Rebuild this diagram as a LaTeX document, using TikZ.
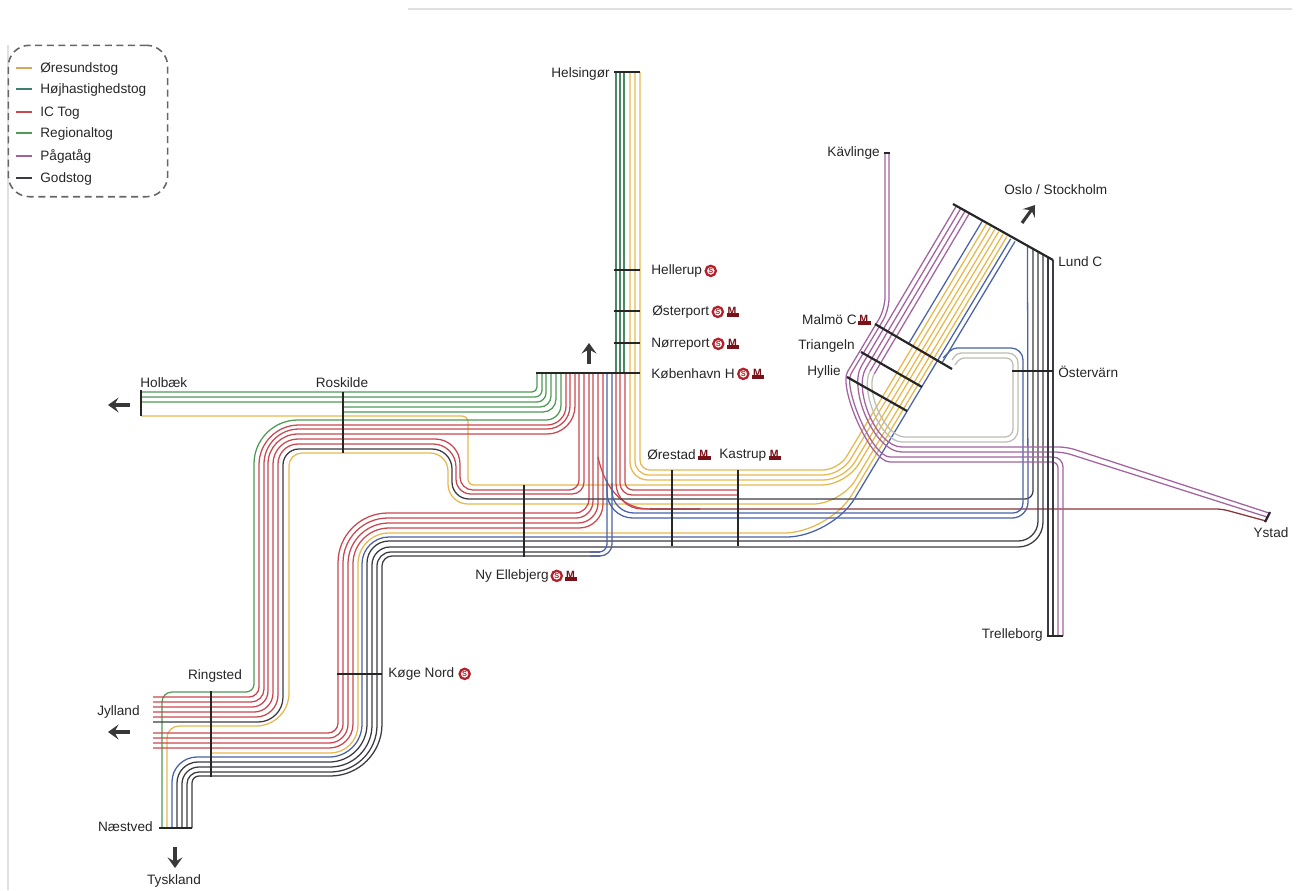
\documentclass[tikz,border=0pt]{standalone}
\usepackage{fontspec}
\setmainfont{Liberation Sans}
\usepackage{xcolor}
\usetikzlibrary{arrows.meta, positioning}
\definecolor{oerecol}{HTML}{E6B84E}
\definecolor{legoere}{HTML}{DDA45C}
\definecolor{hoejcol}{HTML}{4A8A62}
\definecolor{legnhoej}{HTML}{3F7F72}
\definecolor{iccol}{HTML}{C9474F}
\definecolor{regcol}{HTML}{4F9A55}
\definecolor{pagcol}{HTML}{A2629F}
\definecolor{godscol}{HTML}{3A3A42}
\definecolor{blaucol}{HTML}{4A62A6}
\definecolor{graacol}{HTML}{BDBDB6}
\definecolor{ikoncol}{HTML}{B3202A}
\definecolor{ikonmork}{HTML}{7A1018}

\begin{document}
\begin{tikzpicture}[
    x=0.02cm, y=-0.02cm,
    track/.style={line width=0.72pt},
    oere/.style={track, oerecol},
    hoej/.style={track, hoejcol},
    ictog/.style={track, iccol},
    regio/.style={track, regcol},
    paga/.style={track, pagcol},
    gods/.style={track, godscol},
    blau/.style={track, blaucol},
    graa/.style={track, graacol},
    rc/.style={rounded corners=#1*0.567pt},
    stopbar/.style={line width=1.25pt, black!85},
    stn/.style={font=\fontsize{7.75}{9}\selectfont, text=black!85, inner sep=0pt, yshift=-0.5pt},
    sicon/.style={circle, draw=ikoncol, line width=1.3pt, inner sep=0pt, minimum size=5.8pt,
        font=\fontsize{4.2}{5}\selectfont\bfseries, text=ikoncol},
    micon/.style={inner sep=0pt, font=\fontsize{6}{6}\selectfont\bfseries, text=ikonmork},
    arr/.style={-{Stealth[length=6pt, width=8.5pt, inset=2.4pt]}, line width=1.8pt, black!78},
]
\useasboundingbox (0,0) rectangle (1298,890);
\newcommand{\mbar}{\rlap{\raisebox{-1.3pt}{\rule{7pt}{2pt}}}\hspace{0.6pt}M}

%% ---- PAGE EDGES ----
\draw[black!12, line width=0.6pt] (408,9) -- (1292,9);
\draw[black!12, line width=0.6pt] (8,45) -- (8,890);

%% ---- HELSINGOR LINE ----
\foreach \xk in {616,620,624}
    \draw[hoej] (\xk,72) -- (\xk,373);

%% ---- ORESUND YELLOW ----
\foreach \xk/\yh/\xc/\xt/\yt/\ra/\rb in {640/470/838.5/986.3/224.1/10/16,
        635/475/841/990.6/226.7/14/18, 630/480/844/994.8/229.3/18/21}
    \draw[oere] (\xk,72) [rc=\ra] -- (\xk,\yh) [rc=\rb] -- (\xc,\yh) -- (\xt,\yt);
\draw[oere] (141,416) [rc=6] -- (468,416) -- (468,485) [rc=24] -- (846,485) -- (998.7,231.6);
\draw[oere] (167,828) [rc=12] -- (167,726) [rc=33] -- (289,726) [rc=13] -- (289,453) [rc=18]
    -- (448,453) [rc=20] -- (448,504) [rc=28] -- (841,504) -- (1003,234.2);
\draw[oere] (211,753) [rc=28] -- (358,753) [rc=31] -- (358,533) [rc=45] -- (829,533) -- (1006.9,236.5);

%% ---- GREEN TO KOBENHAVN ----
\foreach \xs/\yh/\xk/\ra in {141/392/537/5, 141/397/542/7, 141/402/546/9, 342/407/551/11, 342/412/556/13}
    \draw[regio] (\xs,\yh) [rc=\ra] -- (\xk,\yh) -- (\xk,373);
\draw[regio] (561,373) [rc=15] -- (561,420) [rc=44] -- (254,420) [rc=8] -- (254,692) [rc=10]
    -- (162,692) -- (162,828);

%% ---- IC UPPER ----
\foreach \xk/\yh/\xl/\yl/\ra/\rb/\rc in {566/425/259/697/19/40/10, 570/429/264/702/23/35/13, 575/434/268/707/28/30/16}
    \draw[ictog] (\xk,373) [rc=\ra] -- (\xk,\yh) [rc=\rb] -- (\xl,\yh) [rc=\rc] -- (\xl,\yl) -- (153,\yl);
\draw[ictog] (153,712) [rc=19] -- (273,712) [rc=25] -- (273,439) [rc=25] -- (460,439) [rc=13]
    -- (460,490) [rc=10] -- (579,490) -- (579,373);
\draw[ictog] (153,717) [rc=22] -- (278,717) [rc=20] -- (278,444) [rc=23] -- (456,444) [rc=15]
    -- (456,494) [rc=12] -- (584,494) -- (584,373);

%% ---- IC LOWER ----
\foreach \yl/\xl/\yh/\xk/\ra/\rb/\rc in {733/338/513/589/10/50/14, 738/343/518/593/14/45/17,
        743/348/523/598/19/41/20, 748/353/528/603/24/36/24}
    \draw[ictog] (153,\yl) [rc=\ra] -- (\xl,\yl) [rc=\rb] -- (\xl,\yh) [rc=\rc] -- (\xk,\yh) -- (\xk,373);

%% ---- IC TO ORESTAD AND YSTAD ----
\draw[ictog] (625,373) [rc=8] -- (625,490) -- (738,490);
\draw[ictog] (620,373) [rc=12] -- (620,495) -- (738,495);
\draw[ictog] (616,373) [rc=26] -- (616,509) -- (700,509);
\draw[ictog] (598,457) .. controls (604,485) and (620,509) .. (650,509);
\draw[ictog, black!30!iccol] (650,509) [rc=6] -- (1222,509) -- (1266,521);

%% ---- GODS AND BLUE THROUGH ----
\draw[gods] (153,722) [rc=25] -- (283,722) [rc=16] -- (283,449) [rc=20] -- (452,449) [rc=17]
    -- (452,499) [rc=8] -- (1033,499) -- (1033,248.8);
\draw[blau] (172,828) [rc=25] -- (172,757) [rc=33] -- (362,757) [rc=27] -- (362,537) [rc=45]
    -- (831.5,537) -- (1010.7,238.8);
\draw[gods] (177,828) [rc=21] -- (177,762) [rc=38] -- (367,762) [rc=22] -- (367,541) [rc=20]
    -- (1038,541) -- (1038,251.6);
\draw[gods] (182,828) [rc=17] -- (182,767) [rc=42] -- (372,767) [rc=18] -- (372,547) [rc=25]
    -- (1043,547) -- (1043,254.4);
\draw[gods] (187,828) [rc=12] -- (187,772) [rc=47] -- (377,772) [rc=14] -- (377,552) -- (600,552);
\draw[gods] (192,828) [rc=7] -- (192,776) [rc=52] -- (382,776) [rc=10] -- (382,556) -- (600,556);
\draw[blau] (590,552) [rc=8] -- (607,552) -- (607,373);
\draw[blau] (590,556) [rc=12] -- (612,556) -- (612,373);

%% ---- BLUE BRANCHES ----
\draw[blau] (607,480) [rc=26] -- (607,518) [rc=16] -- (1028,518) -- (1027.5,245.7);
\draw[blau] (612,483) [rc=22] -- (612,513) [rc=10] -- (1023,513) [rc=12] -- (1023,348) [rc=4]
    -- (953,348) -- (943,358);
\draw[blau] (982,221.5) -- (908.4,344);
\draw[blau] (1015,241.4) -- (941.4,363.9);

%% ---- PAGATOG ----
\draw[paga] (885,153) [rc=12] -- (885,309) -- (853.7,361.4)
    .. controls (838.3,387.1) and (870,462) .. (902,462) [rc=6] -- (1058,462) -- (1058,636);
\draw[paga] (889,153) [rc=12] -- (889,310.4) -- (857.2,363.4)
    .. controls (842.8,387.4) and (872,457) .. (902,457) [rc=10] -- (1063,457) -- (1063,636);
\draw[paga] (956.3,206.1) -- (861.4,366)
    .. controls (848,388.3) and (874,452) .. (902,452) [rc=8] -- (1063,452) -- (1267,517);
\draw[paga] (960.6,208.7) -- (865.7,368.6)
    .. controls (853.3,389.2) and (876,447) .. (902,447) [rc=8] -- (1067,447) -- (1269,513);
\draw[paga] (964.9,211.2) -- (870,371.2);
\draw[paga] (969.1,213.8) -- (874.3,373.7);

%% ---- GRAY LOOP ----
\draw[graa] (870,371.2) .. controls (859.7,388.3) and (880,442) .. (902,442)
    [rc=12] -- (1018,442) [rc=10] -- (1018,353) [rc=4] -- (957,353) -- (952,360);
\draw[graa] (874.3,373.7) .. controls (865,389.1) and (884,437) .. (905,437)
    [rc=8] -- (1013,437) [rc=7] -- (1013,358) [rc=4] -- (960,358) -- (955,365);

%% ---- TRELLEBORG ----
\foreach \xk/\yt in {1048/257.2, 1053/260}
    \draw[gods] (\xk,\yt) -- (\xk,636);

%% ---- STOP BARS ----
\draw[stopbar] (614,72) -- (640,72);
\draw[stopbar] (614,270) -- (640,270);
\draw[stopbar] (614,311) -- (640,311);
\draw[stopbar] (614,343) -- (640,343);
\draw[stopbar] (536,373) -- (640,373);
\draw[stopbar] (672,470) -- (672,546);
\draw[stopbar] (738,470) -- (738,546);
\draw[stopbar] (524,485) -- (524,557);
\draw[stopbar] (343,392) -- (343,453);
\draw[stopbar] (141,390) -- (141,416);
\draw[stopbar] (211,691) -- (211,777);
\draw[stopbar] (337,674) -- (382,674);
\draw[stopbar] (159,828) -- (192,828);
\draw[stopbar] (953,204) -- (1053,260);
\draw[stopbar] (875,324) -- (952,369);
\draw[stopbar] (861,352) -- (922,387);
\draw[stopbar] (847,377) -- (907,411);
\draw[stopbar] (1012,371) -- (1053,371);
\draw[stopbar] (884,153) -- (890,153);
\draw[stopbar] (1047,636) -- (1063,636);
\draw[stopbar] (1265,522) -- (1270,512);

%% ---- STATION LABELS ----
\node[stn, anchor=east] (helsingor) at (610,73) {Helsingør};
\node[stn, anchor=west] (hellerup) at (651,270) {Hellerup};
\node[sicon, right=1.2pt of hellerup] (hellerupS) {S};
\node[stn, anchor=west] (osterport) at (652,311) {Østerport};
\node[sicon, right=1.2pt of osterport] (osterportS) {S};
\node[micon, right=1.2pt of osterportS] (osterportM) {\mbar};
\node[stn, anchor=west] (norreport) at (651,343) {Nørreport};
\node[sicon, right=1.2pt of norreport] (norreportS) {S};
\node[micon, right=1.2pt of norreportS] (norreportM) {\mbar};
\node[stn, anchor=west] (kobenhavn) at (651,373) {København H};
\node[sicon, right=1.2pt of kobenhavn] (kobenhavnS) {S};
\node[micon, right=1.2pt of kobenhavnS] (kobenhavnM) {\mbar};
\node[stn, anchor=west] (orestad) at (647,454) {Ørestad};
\node[micon, right=1pt of orestad] (orestadM) {\mbar};
\node[stn, anchor=west] (kastrup) at (719,454) {Kastrup};
\node[micon, right=1pt of kastrup] (kastrupM) {\mbar};
\node[stn, anchor=west] (ellebjerg) at (475,575) {Ny Ellebjerg};
\node[sicon, right=0.8pt of ellebjerg] (ellebjergS) {S};
\node[micon, right=1pt of ellebjergS] (ellebjergM) {\mbar};
\node[stn, anchor=west] (koge) at (388,673) {Køge Nord};
\node[sicon, right=2.2pt of koge] (kogeS) {S};
\node[stn] (roskilde) at (342,381.5) {Roskilde};
\node[stn, anchor=west] (holbaek) at (140,382) {Holbæk};
\node[stn] (ringsted) at (215,675.5) {Ringsted};
\node[stn, anchor=east] (jylland) at (140,711.5) {Jylland};
\node[stn, anchor=east] (naestved) at (153,826) {Næstved};
\node[stn] (tyskland) at (174,880.5) {Tyskland};
\node[stn, anchor=west] (oslo) at (1004,189) {Oslo / Stockholm};
\node[stn, anchor=west] (lund) at (1058,261) {Lund C};
\node[stn, anchor=west] (ostervarn) at (1058,370.5) {Östervärn};
\node[stn, anchor=east] (malmo) at (857,319) {Malmö C};
\node[micon, right=0.5pt of malmo] (malmoM) {\mbar};
\node[stn, anchor=west] (triangeln) at (798,345.5) {Triangeln};
\node[stn, anchor=west] (hyllie) at (807,371.5) {Hyllie};
\node[stn, anchor=east] (trelleborg) at (1043,634) {Trelleborg};
\node[stn] (ystad) at (1271,531.5) {Ystad};
\node[stn, anchor=east] (kavlinge) at (880,152) {Kävlinge};

%% ---- DIRECTION ARROWS ----
\coordinate (holbaekA) at (130,405);
\coordinate (holbaekB) at (108,405);
\coordinate (kbhA) at (589,364);
\coordinate (kbhB) at (589,343);
\coordinate (jyllandA) at (130,732);
\coordinate (jyllandB) at (108,732);
\coordinate (tysklandA) at (175,847);
\coordinate (tysklandB) at (175,868);
\coordinate (osloA) at (1022,223);
\coordinate (osloB) at (1035,205);
\draw[arr] (holbaekA) -- (holbaekB);
\draw[arr] (kbhA) -- (kbhB);
\draw[arr] (jyllandA) -- (jyllandB);
\draw[arr] (tysklandA) -- (tysklandB);
\draw[arr] (osloA) -- (osloB);

%% ---- LEGEND ----
\node[draw=black!60, dashed, dash pattern=on 4pt off 2.6pt, line width=0.9pt, rounded corners=12pt,
      minimum width=160*0.567pt, minimum height=152*0.567pt] (legend) at (88,121) {};
\foreach \yl/\col/\txt in {68/legoere/Øresundstog, 89/legnhoej/Højhastighedstog, 112/iccol/IC Tog,
        133/regcol/Regionaltog, 156/pagcol/Pågatåg, 178/godscol/Godstog} {
    \draw[track, \col] (16,\yl) -- (32,\yl);
    \node[stn, anchor=west] (leg\yl) at (40,\yl) {\txt};
}
\end{tikzpicture}
\end{document}
